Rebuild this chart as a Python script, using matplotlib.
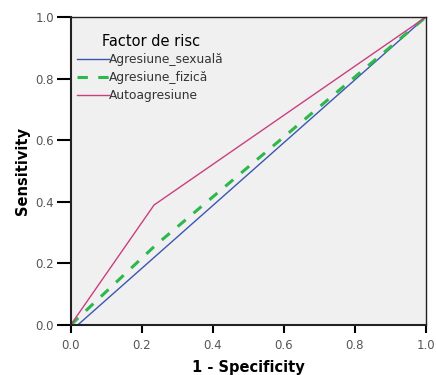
import matplotlib
matplotlib.use("Agg")
import matplotlib.pyplot as plt

# Data
labels = ["Agresiune_sexuală", "Agresiune_fizică", "Autoagresiune"]
sex_x = [0.0, 0.02, 1.0]
sex_y = [0.0, 0.0, 1.0]
fiz_x = [0.0, 0.24, 1.0]
fiz_y = [0.0, 0.26, 1.0]
auto_x = [0.0, 0.235, 1.0]
auto_y = [0.0, 0.39, 1.0]
ticks = [0.0, 0.2, 0.4, 0.6, 0.8, 1.0]
tick_labels = ["0.0", "0.2", "0.4", "0.6", "0.8", "1.0"]

fig = plt.figure(figsize=(4.36, 3.75), dpi=100)
ax = fig.add_axes([0.162, 0.1333, 0.814, 0.8205])
ax.set_facecolor("#F0F0F0")

ax.plot(sex_x, sex_y, color="#3C56B0", lw=1.0, label=labels[0])
ax.plot(fiz_x, fiz_y, color="#2DB84C", lw=2.2, dashes=(3.4, 3.4), label=labels[1])
ax.plot(auto_x, auto_y, color="#C8407F", lw=1.0, label=labels[2])

ax.set_xlim(0, 1)
ax.set_ylim(0, 1)
ax.set_xticks(ticks)
ax.set_xticklabels(tick_labels)
ax.set_yticks(ticks)
ax.set_yticklabels(tick_labels)
ax.tick_params(axis="y", direction="out", length=10, width=1.5, labelsize=8.5, labelcolor="#555555", pad=2)
ax.tick_params(axis="x", direction="out", length=6, width=1.5, labelsize=8.5, labelcolor="#555555", pad=4)
for s in ax.spines.values():
    s.set_linewidth(1.0)
    s.set_color("#222222")
ax.spines["left"].set_linewidth(1.5)
ax.spines["bottom"].set_linewidth(1.5)

ax.set_xlabel("1 - Specificity", fontsize=10.5, fontweight="bold", labelpad=6)
ax.set_ylabel("Sensitivity", fontsize=10.5, fontweight="bold", labelpad=4)

leg = ax.legend(title="Factor de risc", loc="upper left", bbox_to_anchor=(-0.005, 0.975),
                frameon=False, fontsize=8.8, title_fontsize=10.5, handlelength=2.6,
                handletextpad=0.0, labelspacing=0.4, borderaxespad=0.3)
for t in leg.get_texts():
    t.set_color("#333333")

fig.savefig("out.png", dpi=100)
